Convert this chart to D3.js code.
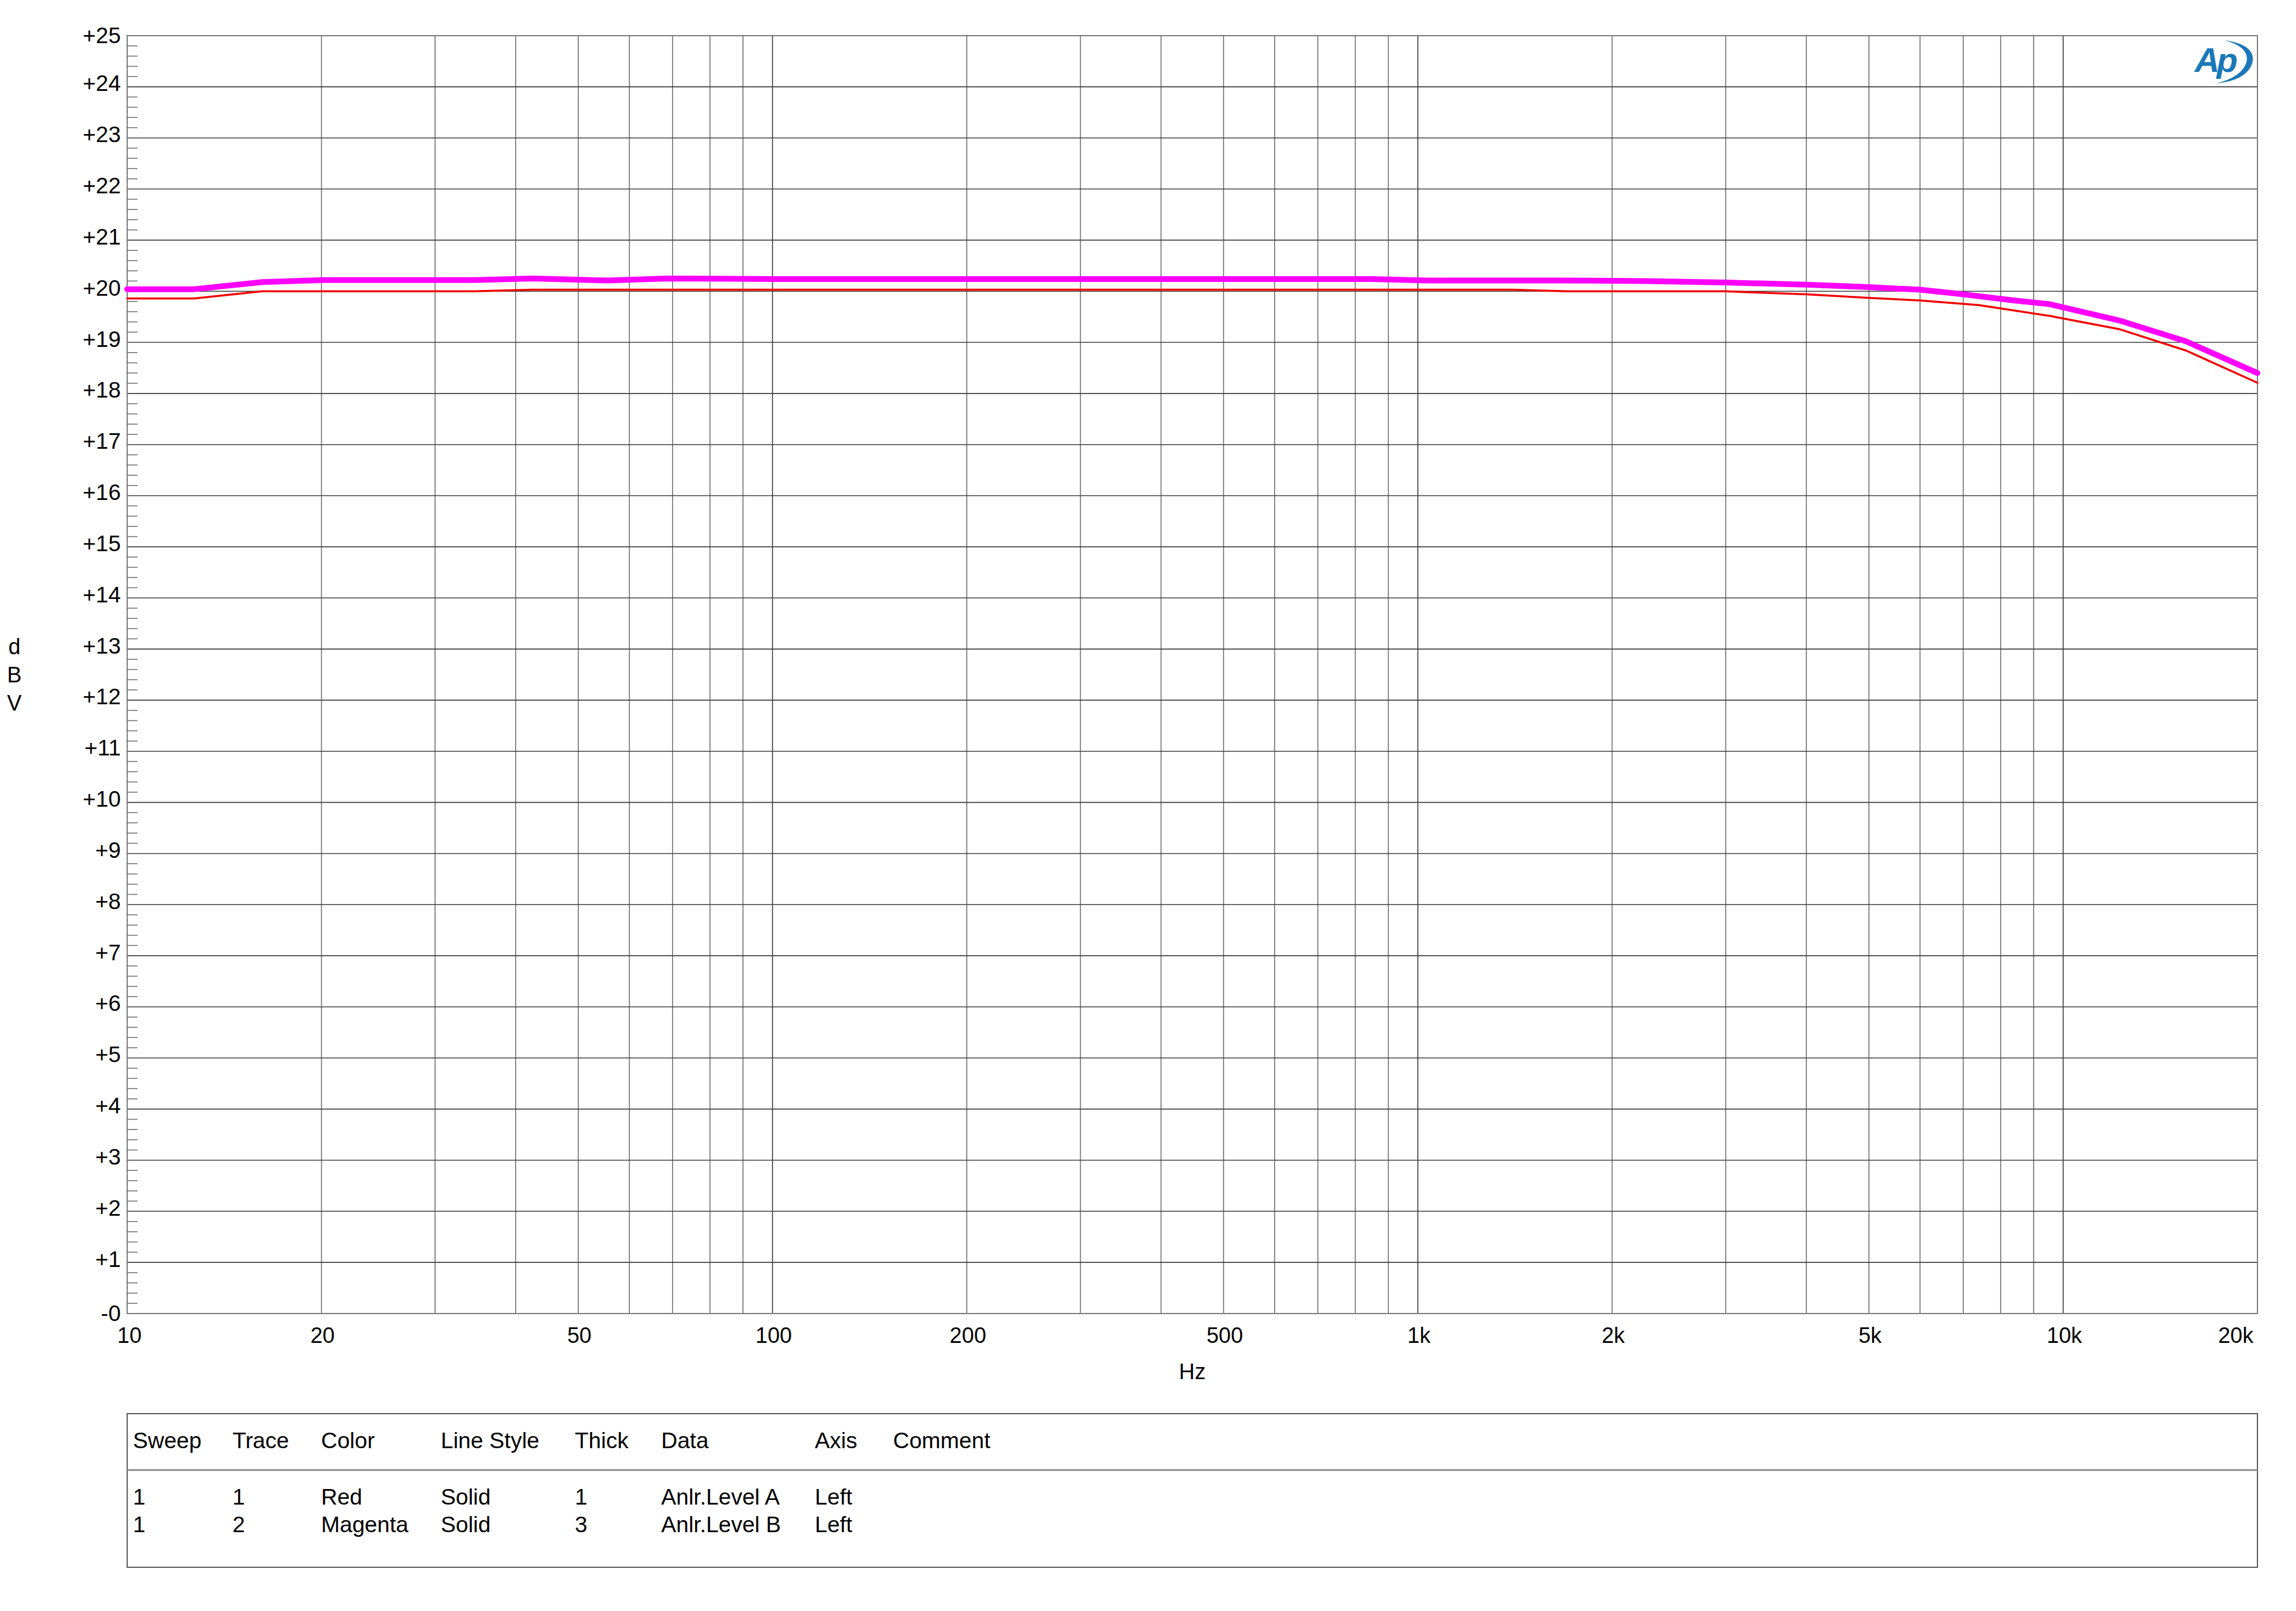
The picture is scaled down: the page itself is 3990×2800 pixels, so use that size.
<!DOCTYPE html>
<html>
<head>
<meta charset="utf-8">
<script src="https://cdn.jsdelivr.net/npm/d3@7"></script>
<style>
  html, body { margin: 0; padding: 0; background: #fff; }
  svg { display: block; }
  text { font-family: "Liberation Sans", Arial, sans-serif; fill: #000; }
</style>
</head>
<body>
<svg id="chart" width="3990" height="2800"></svg>
<script>
// ---- data ----
const redFreq = [10, 12.7, 16.2, 20.2, 34.6, 42.5, 55.5, 69, 100, 200, 500, 1000, 1400, 1700, 2250, 3000, 3270, 4000, 5000, 6000, 7400, 9500, 12200, 15500, 20000];
const redDb   = [19.86, 19.86, 20.00, 20.00, 20.00, 20.03, 20.03, 20.03, 20.03, 20.03, 20.03, 20.03, 20.03, 20.00, 20.00, 20.00, 19.98, 19.94, 19.87, 19.82, 19.73, 19.52, 19.26, 18.84, 18.21];

const magFreq = [10, 12.7, 16.2, 20.2, 34.6, 42.5, 55.5, 69, 100, 200, 500, 850, 1030, 1400, 1700, 2250, 3000, 4000, 5000, 6000, 7000, 8400, 9500, 12200, 15500, 20000];
const magDb   = [20.04, 20.04, 20.18, 20.22, 20.22, 20.25, 20.21, 20.25, 20.24, 20.24, 20.24, 20.24, 20.21, 20.21, 20.21, 20.20, 20.17, 20.13, 20.08, 20.03, 19.94, 19.82, 19.75, 19.43, 19.02, 18.40];

const xTickValues = [10, 20, 50, 100, 200, 500, 1000, 2000, 5000, 10000, 20000];
const xTickLabels = ["10", "20", "50", "100", "200", "500", "1k", "2k", "5k", "10k", "20k"];
const yTickValues = d3.range(0, 26);
const yTickLabels = yTickValues.map(v => v === 0 ? "-0" : "+" + v);

const legendHeaders = ["Sweep", "Trace", "Color", "Line Style", "Thick", "Data", "Axis", "Comment"];
const legendRows = [
  ["1", "1", "Red", "Solid", "1", "Anlr.Level A", "Left", ""],
  ["1", "2", "Magenta", "Solid", "3", "Anlr.Level B", "Left", ""]
];

// ---- layout ----
const L = 221, R = 3923, T = 62, B = 2283;
const svg = d3.select("#chart");
svg.append("rect").attr("width", 3990).attr("height", 2800).attr("fill", "#fff");

const x = d3.scaleLog().domain([10, 20000]).range([L, R]);
const y = d3.scaleLinear().domain([0, 25]).range([B, T]);

// vertical grid
const vGrid = x.ticks().filter(f => f > 10 && f < 20000);
svg.append("g").selectAll("line").data(vGrid).join("line")
  .attr("x1", d => x(d)).attr("x2", d => x(d))
  .attr("y1", T).attr("y2", B)
  .attr("stroke", d => [100, 1000, 10000].includes(d) ? "#333" : "#6a6a6a")
  .attr("stroke-width", 1.6);

// horizontal grid
svg.append("g").selectAll("line").data(yTickValues.filter(v => v > 0 && v < 25)).join("line")
  .attr("x1", L).attr("x2", R)
  .attr("y1", d => y(d)).attr("y2", d => y(d))
  .attr("stroke", "#3a3a3a").attr("stroke-width", 1.6);

// minor ticks on left axis
const minor = d3.range(0, 25.001, 0.2).filter(v => Math.abs(v - Math.round(v)) > 0.01);
svg.append("g").selectAll("line").data(minor).join("line")
  .attr("x1", L).attr("x2", L + 18)
  .attr("y1", d => y(d)).attr("y2", d => y(d))
  .attr("stroke", "#707070").attr("stroke-width", 1.6);

// border
svg.append("rect").attr("x", L).attr("y", T).attr("width", R - L).attr("height", B - T)
  .attr("fill", "none").attr("stroke", "#777").attr("stroke-width", 2);

// y tick labels
svg.append("g").selectAll("text").data(yTickValues).join("text")
  .attr("x", 210)
  .attr("y", d => y(d) + 14 + ((d === 0 || d === 25) ? -1 : -6.5))
  .attr("text-anchor", "end")
  .attr("font-size", 39)
  .text((d, i) => yTickLabels[i]);

// x tick labels
svg.append("g").selectAll("text").data(xTickValues).join("text")
  .attr("x", (d, i) => i === xTickValues.length - 1 ? x(d) - 7 : x(d) + (i === 0 ? 4 : 2))
  .attr("y", 2334)
  .attr("text-anchor", (d, i) => i === xTickValues.length - 1 ? "end" : "middle")
  .attr("font-size", 38)
  .text((d, i) => xTickLabels[i]);

// axis titles
svg.append("text").attr("x", (L + R) / 2).attr("y", 2397).attr("text-anchor", "middle")
  .attr("font-size", 38).text("Hz");
["d", "B", "V"].forEach((c, i) => {
  svg.append("text").attr("x", 25).attr("y", 1137 + i * 49).attr("text-anchor", "middle")
    .attr("font-size", 38).text(c);
});

// traces
const line = d3.line().x(d => x(d[0])).y(d => y(d[1]));
const redPts = redFreq.map((f, i) => [f, redDb[i]]);
const magPts = magFreq.map((f, i) => [f, magDb[i]]);
svg.append("path").attr("d", line(redPts)).attr("fill", "none")
  .attr("stroke", "#f20000").attr("stroke-width", 3.5)
  .attr("stroke-linejoin", "round").attr("stroke-linecap", "round");
svg.append("path").attr("d", line(magPts)).attr("fill", "none")
  .attr("stroke", "#ff00ff").attr("stroke-width", 10)
  .attr("stroke-linejoin", "round").attr("stroke-linecap", "round");

// AP logo
const logo = svg.append("g");
logo.append("text").attr("x", 3814).attr("y", 125)
  .attr("font-size", 60).attr("font-weight", "bold").attr("font-style", "italic")
  .attr("letter-spacing", -5)
  .style("fill", "#1a78b8").text("Ap");
logo.append("path")
  .attr("d", "M3866,70 Q3922,78 3914,110 Q3904,140 3851,145 Q3896,134 3904,108 Q3910,82 3866,70 Z")
  .attr("fill", "#1a78b8");

// legend box
const LT = 2457, LB = 2724;
svg.append("rect").attr("x", L).attr("y", LT).attr("width", R - L).attr("height", LB - LT)
  .attr("fill", "none").attr("stroke", "#555").attr("stroke-width", 2);
svg.append("line").attr("x1", L).attr("x2", R).attr("y1", 2555).attr("y2", 2555)
  .attr("stroke", "#888").attr("stroke-width", 3);

const colX = [231, 404, 558, 766, 999, 1149, 1416, 1552];
svg.append("g").selectAll("text").data(legendHeaders).join("text")
  .attr("x", (d, i) => colX[i]).attr("y", 2517).attr("font-size", 39).text(d => d);
legendRows.forEach((row, r) => {
  svg.append("g").selectAll("text").data(row).join("text")
    .attr("x", (d, i) => colX[i]).attr("y", 2615 + r * 48).attr("font-size", 39).text(d => d);
});
</script>
</body>
</html>
